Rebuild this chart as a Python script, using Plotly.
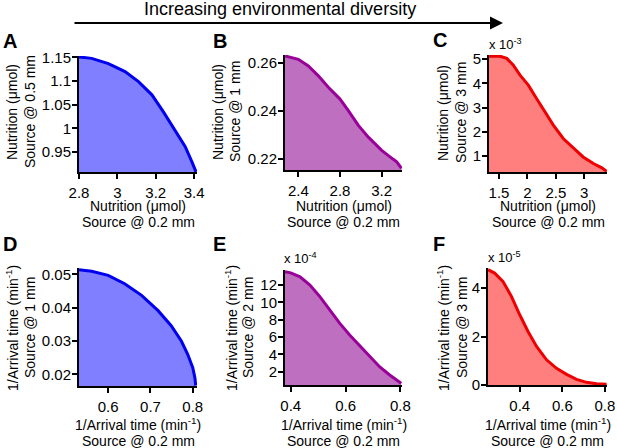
import plotly.graph_objects as go

# ---- data (scaled panels are in the units shown on the axis) ----
a_x = [2.8, 2.866, 2.953, 3.04, 3.11, 3.18, 3.24, 3.30, 3.353, 3.388, 3.405, 3.41]
a_y = [1.151, 1.148, 1.137, 1.12, 1.099, 1.071, 1.035, 0.997, 0.962, 0.93, 0.911, 0.908]

b_x = [2.272, 2.4, 2.496, 2.592, 2.688, 2.8, 2.88, 2.976, 3.072, 3.2, 3.28, 3.344, 3.39]
b_y = [0.2628, 0.2614, 0.2586, 0.2545, 0.2497, 0.2448, 0.24, 0.2338, 0.2289, 0.2234, 0.2207, 0.2186, 0.2159]

c_x = [1.324, 1.52, 1.636, 1.752, 1.87, 2.016, 2.16, 2.31, 2.456, 2.63, 2.81, 2.98, 3.16, 3.31, 3.395]
c_y = [5.12, 5.12, 5.03, 4.75, 4.34, 3.93, 3.38, 2.83, 2.28, 1.73, 1.32, 0.97, 0.70, 0.52, 0.38]  # x 10^-3

d_x = [0.531, 0.561, 0.6, 0.639, 0.679, 0.718, 0.749, 0.773, 0.788, 0.80, 0.805, 0.807]
d_y = [0.0514, 0.0509, 0.0497, 0.0472, 0.0437, 0.0391, 0.0346, 0.030, 0.026, 0.022, 0.019, 0.0166]

e_x = [0.379, 0.4, 0.434, 0.470, 0.507, 0.543, 0.579, 0.615, 0.652, 0.688, 0.724, 0.761, 0.803]
e_y = [13.54, 13.42, 12.96, 12.0, 10.65, 9.11, 7.58, 6.23, 4.96, 3.73, 2.57, 1.62, 0.65]  # x 10^-4

f_x = [0.251, 0.282, 0.321, 0.361, 0.4, 0.439, 0.479, 0.526, 0.573, 0.62, 0.667, 0.714, 0.761, 0.808]
f_y = [4.76, 4.62, 4.28, 3.66, 2.90, 2.21, 1.59, 1.04, 0.69, 0.44, 0.23, 0.11, 0.05, 0.03]  # x 10^-5

blue_fill, blue_line = "#7f7fff", "#0000ee"
purple_fill, purple_line = "#bf6fbf", "#990099"
red_fill, red_line = "#ff7f7f", "#ee0000"

FONT = "Liberation Sans, Arial, sans-serif"
W, H = 617, 448

def px(x):
    return x / W

def py(y):
    return 1 - y / H

# panel boxes in pixels: (left, right, top, bottom)
boxes = [
    (79, 197, 56, 172), (285, 402, 55, 170), (489, 607, 55, 172),
    (79, 197, 268, 386), (285, 402, 270, 385), (488, 607, 268, 385),
]

panels = [
    dict(x=a_x, y=a_y, fill=blue_fill, line=blue_line,
         xr=[2.8, 3.415], yr=[0.908, 1.153],
         xt=[2.8, 3, 3.2, 3.4], xl=["2.8", "3", "3.2", "3.4"],
         yt=[0.95, 1, 1.05, 1.1, 1.15], yl=["0.95", "1", "1.05", "1.1", "1.15"]),
    dict(x=b_x, y=b_y, fill=purple_fill, line=purple_line,
         xr=[2.272, 3.395], yr=[0.2152, 0.2632],
         xt=[2.4, 2.8, 3.2], xl=["2.4", "2.8", "3.2"],
         yt=[0.22, 0.24, 0.26], yl=["0.22", "0.24", "0.26"]),
    dict(x=c_x, y=c_y, fill=red_fill, line=red_line,
         xr=[1.324, 3.40], yr=[0.35, 5.17],
         xt=[1.5, 2, 2.5, 3], xl=["1.5", "2", "2.5", "3"],
         yt=[1, 2, 3, 4, 5], yl=["1", "2", "3", "4", "5"]),
    dict(x=d_x, y=d_y, fill=blue_fill, line=blue_line,
         xr=[0.531, 0.81], yr=[0.0165, 0.0519],
         xt=[0.6, 0.7, 0.8], xl=["0.6", "0.7", "0.8"],
         yt=[0.02, 0.03, 0.04, 0.05], yl=["0.02", "0.03", "0.04", "0.05"]),
    dict(x=e_x, y=e_y, fill=purple_fill, line=purple_line,
         xr=[0.379, 0.806], yr=[0.46, 13.75],
         xt=[0.4, 0.6, 0.8], xl=["0.4", "0.6", "0.8"],
         yt=[2, 4, 6, 8, 10, 12], yl=["2", "4", "6", "8", "10", "12"]),
    dict(x=f_x, y=f_y, fill=red_fill, line=red_line,
         xr=[0.251, 0.81], yr=[0, 4.83],
         xt=[0.4, 0.6, 0.8], xl=["0.4", "0.6", "0.8"],
         yt=[0, 2, 4], yl=["0", "2", "4"]),
]

fig = go.Figure()
layout = {}
for i, (p, b) in enumerate(zip(panels, boxes)):
    n = "" if i == 0 else str(i + 1)
    fig.add_trace(go.Scatter(x=p["x"], y=p["y"], mode="lines", fill="tozeroy",
                             fillcolor=p["fill"], line=dict(color=p["line"], width=3),
                             xaxis="x" + n, yaxis="y" + n, showlegend=False, hoverinfo="skip"))
    common = dict(showline=True, linecolor="black", linewidth=2, ticks="outside",
                  ticklen=5, tickwidth=1.5, tickcolor="black", showgrid=False,
                  zeroline=False, mirror=False, automargin=False,
                  tickfont=dict(family=FONT, size=15, color="black"))
    layout["xaxis" + n] = dict(common, domain=[px(b[0]), px(b[1])], range=p["xr"],
                               tickvals=p["xt"], ticktext=p["xl"], anchor="y" + n,
                               ticklabelstandoff=1)
    layout["yaxis" + n] = dict(common, domain=[py(b[3]), py(b[2])], range=p["yr"],
                               tickvals=p["yt"], ticktext=p["yl"], anchor="x" + n,
                               ticklabelstandoff=-2)

fig.update_layout(**layout)

ann = []
def text(s, x, y, size=14, angle=0, xa="center", ya="middle", bold=False):
    ann.append(dict(text=("<b>%s</b>" % s) if bold else s, x=px(x), y=py(y),
                    xref="paper", yref="paper", showarrow=False, textangle=angle,
                    xanchor=xa, yanchor=ya,
                    font=dict(family=FONT, size=size, color="black")))

# heading and arrow
text("Increasing environmental diversity", 280, 9, size=18)
ann.append(dict(x=px(503), y=py(23), ax=-430, ay=0, axref="pixel", ayref="pixel",
                xref="paper", yref="paper", text="", showarrow=True, arrowhead=2,
                arrowsize=1.3, arrowwidth=2, arrowcolor="black"))

# panel letters
for letter, (x, y) in zip("ABCDEF", [(1, 41), (211, 41), (431, 40), (1, 244), (211, 244), (431, 244)]):
    text(letter, x, y, size=20, xa="left", bold=True)

nut = "Nutrition (μmol)"
arr = "1/Arrival time (min<sup>-1</sup>)"
# y titles, one annotation per line: (first line, second line, x1, x2, y centre)
ytitles = [
    (nut, "Source @ 0.5 mm", 12, 30, 112),
    (nut, "Source @ 1 mm", 218, 235, 112),
    (nut, "Source @ 3 mm", 443, 461, 113),
    (arr, "Source @ 1 mm", 12, 30, 328),
    (arr, "Source @ 2 mm", 231, 248, 328),
    (arr, "Source @ 3 mm", 443, 462, 328),
]
for t1, t2, x1, x2, yc in ytitles:
    text(t1, x1, yc, angle=-90)
    text(t2, x2, yc, angle=-90)
# x titles
for b in boxes[:3]:
    text(nut, (b[0] + b[1]) / 2, 206)
    text("Source @ 0.2 mm", (b[0] + b[1]) / 2, 222)
for b in boxes[3:]:
    text(arr, (b[0] + b[1]) / 2, 424)
    text("Source @ 0.2 mm", (b[0] + b[1]) / 2, 441)

# exponent multipliers
text("x 10<sup>-3</sup>", 487, 44, size=13, xa="left")
text("x 10<sup>-4</sup>", 282, 258, size=13, xa="left")
text("x 10<sup>-5</sup>", 486, 257, size=13, xa="left")

fig.update_layout(annotations=ann, width=W, height=H,
                  margin=dict(l=0, r=0, t=0, b=0),
                  paper_bgcolor="white", plot_bgcolor="white")

# page body has a default margin; drop it so the figure fills the window
fig.write_html("out.html", config={"displayModeBar": False},
               post_script="document.body.style.margin='0';")
